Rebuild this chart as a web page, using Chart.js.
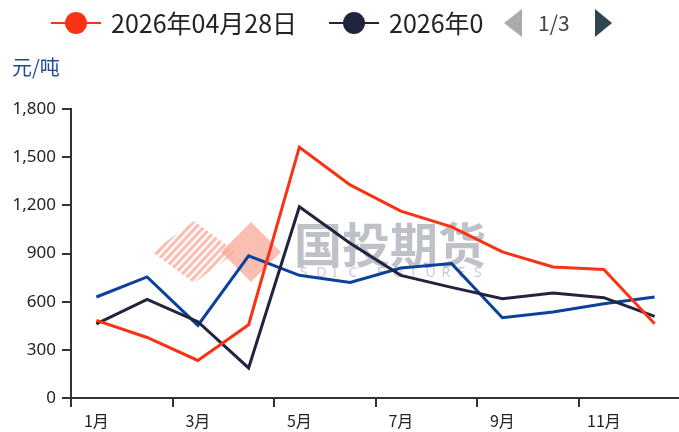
<!DOCTYPE html>
<html><head><meta charset="utf-8">
<script src="https://cdn.jsdelivr.net/npm/chart.js@4"></script>
<style>
html,body{margin:0;padding:0;width:679px;height:432px;overflow:hidden;background:#fff;font-family:"Noto Sans","Noto Sans CJK SC",sans-serif;}
#wrap{position:absolute;left:0;top:0;width:700px;height:432px;}
.lg{position:absolute;top:5px;height:34px;line-height:34px;font-size:25px;color:#222;white-space:nowrap;font-family:"Noto Sans CJK SC","Noto Sans",sans-serif;}
.mk{position:absolute;top:22px;height:2px;}
.dot{position:absolute;width:22px;height:22px;border-radius:50%;top:12px;}
#unit{position:absolute;left:12px;top:52px;font-size:20px;color:#1f4a9c;font-family:"Noto Sans CJK SC",sans-serif;}
.tri{position:absolute;width:0;height:0;top:9px;border-top:14px solid transparent;border-bottom:14px solid transparent;}
</style></head>
<body>
<div id="wrap"><canvas id="c" width="700" height="432"></canvas></div>
<div class="mk" style="left:51px;width:50px;background:#fa3214"></div>
<div class="dot" style="left:65px;background:#fa3214"></div>
<div class="lg" style="left:111px;">2026年04月28日</div>
<div class="mk" style="left:329px;width:50px;background:#22243f"></div>
<div class="dot" style="left:343px;background:#22243f"></div>
<div class="lg" style="left:389px;width:94px;overflow:hidden;">2026年04月21日</div>
<div class="tri" style="left:504px;border-right:18px solid #aaaaaa;"></div>
<div class="lg" style="left:538px;font-size:21px;color:#444;">1/3</div>
<div class="tri" style="left:595px;border-left:17px solid #2f4554;"></div>
<div id="unit">元/吨</div>
<script>
const categories = ['1月','2月','3月','4月','5月','6月','7月','8月','9月','10月','11月','12月'];
const seriesNames = ['2026年04月28日','2026年04月21日','2026年04月14日'];
const redValues  = [483, 377, 234, 456, 1562, 1327, 1164, 1066, 910, 816, 800, 462];
const navyValues = [462, 614, 475, 187, 1191, 964, 764, 689, 619, 654, 625, 508];
const blueValues = [629, 754, 452, 885, 764, 719, 810, 837, 500, 535, 587, 629];
const yTicks = [0, 300, 600, 900, 1200, 1500, 1800];

const watermark = {
  id: 'watermark',
  beforeDatasetsDraw(chart) {
    const ctx = chart.ctx;
    ctx.save();
    const pink = 'rgba(248,170,152,0.75)';
    // striped diamond (left)
    ctx.save();
    ctx.beginPath();
    ctx.moveTo(152, 252);
    ctx.lineTo(194, 221);
    ctx.lineTo(236, 252);
    ctx.lineTo(194, 283);
    ctx.closePath();
    ctx.clip();
    ctx.strokeStyle = pink;
    ctx.lineWidth = 3.2;
    for (let i = -6; i < 18; i++) {
      const x0 = 130 + i * 7.5;
      ctx.beginPath();
      ctx.moveTo(x0, 290);
      ctx.lineTo(x0 + 70, 215);
      ctx.stroke();
    }
    ctx.restore();
    // solid diamond (right)
    ctx.fillStyle = pink;
    ctx.beginPath();
    ctx.moveTo(251, 222);
    ctx.lineTo(281, 252);
    ctx.lineTo(251, 282);
    ctx.lineTo(221, 252);
    ctx.closePath();
    ctx.fill();
    ctx.fillStyle = 'rgba(180,182,192,0.85)';
    ctx.font = 'bold 48px "Noto Sans CJK SC"';
    ctx.textBaseline = 'middle';
    ctx.fillText('国投期货', 294, 245);
    ctx.font = '14px "Noto Sans"';
    ctx.fillStyle = 'rgba(192,195,204,0.85)';
    const t = 'SDIC FUTURES';
    let x = 300;
    for (const ch of t) { ctx.fillText(ch, x, 273); x += ch === ' ' ? 12 : 16.2; }
    ctx.restore();
  }
};

new Chart(document.getElementById('c'), {
  type: 'line',
  data: {
    labels: categories,
    datasets: [
      { label: seriesNames[0], data: redValues, borderColor: '#fa3214', backgroundColor: '#fa3214' },
      { label: seriesNames[1], data: navyValues, borderColor: '#22243f', backgroundColor: '#22243f' },
      { label: seriesNames[2], data: blueValues, borderColor: '#0a419a', backgroundColor: '#0a419a' }
    ].map(d => Object.assign(d, { borderWidth: 3, pointRadius: 0, tension: 0, fill: false }))
  },
  plugins: [watermark],
  options: {
    responsive: false,
    animation: false,
    events: [],
    layout: { padding: { top: 109, right: 20, left: 0, bottom: 0 } },
    plugins: { legend: { display: false }, tooltip: { enabled: false } },
    scales: {
      x: {
        offset: true,
        grid: {
          offset: true,
          drawOnChartArea: false,
          tickLength: 9,
          lineWidth: 2,
          color: (c) => (c.index % 2 === 0 ? '#333' : 'rgba(0,0,0,0)')
        },
        border: { color: '#333', width: 2 },
        ticks: {
          autoSkip: false, maxRotation: 0, padding: 4,
          color: '#222',
          font: { size: 16, family: '"Noto Sans CJK SC","Noto Sans"' },
          callback: (v, i) => (i % 2 === 0 ? categories[i] : '')
        },
        afterFit: (s) => { s.height = 34; }
      },
      y: {
        min: 0, max: 1800,
        afterBuildTicks: (s) => { s.ticks = yTicks.map(v => ({ value: v })); },
        grid: { drawOnChartArea: false, tickLength: 9, lineWidth: 2, color: '#333' },
        border: { color: '#333', width: 2 },
        ticks: {
          color: '#222', padding: 6,
          font: { size: 17, family: '"Noto Sans"' },
          callback: (v) => v.toLocaleString('en-US')
        },
        afterFit: (s) => { s.width = 71; }
      }
    }
  }
});
</script>
</body></html>
